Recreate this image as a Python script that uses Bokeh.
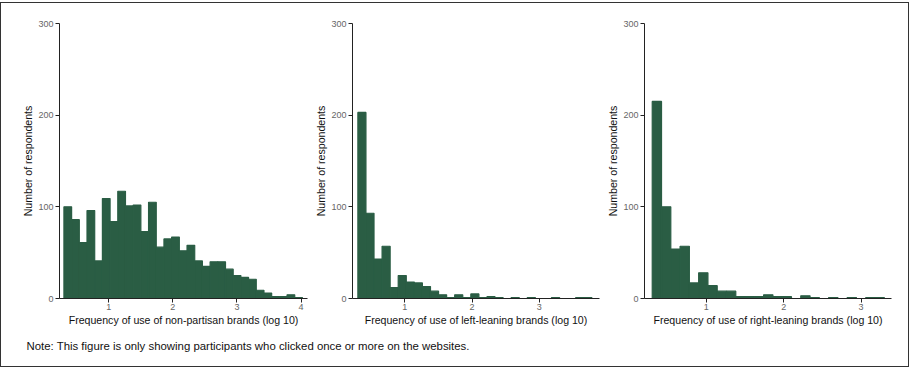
from bokeh.plotting import figure
from bokeh.models import Range1d, Label, FixedTicker
from bokeh.layouts import row, column
from bokeh.embed import file_html
from bokeh.resources import INLINE

# ---- data ----
bin_start = 0.301      # log10(2)
bin_width = 0.12
nonpartisan_counts = [100, 86, 61, 96, 41, 109, 84, 117, 101, 102, 73, 105, 56, 65, 67, 52,
                      58, 41, 35, 40, 40, 32, 25, 23, 21, 9, 6, 2, 2, 4, 1]
left_counts = [203, 93, 43, 57, 12, 25, 18, 17, 13, 8, 4, 1, 4, 1, 5, 1, 2, 1, 0, 1,
               0, 1, 0, 0, 1, 0, 0, 1, 1]
right_counts = [215, 100, 54, 57, 17, 28, 14, 8, 8, 2, 2, 2, 4, 2, 2, 0, 3, 1, 0, 1,
                0, 1, 0, 1, 1]
x_titles = ["Frequency of use of non-partisan brands (log 10)",
            "Frequency of use of left-leaning brands (log 10)",
            "Frequency of use of right-leaning brands (log 10)"]
y_title = "Number of respondents"
y_ticks = [0, 100, 200, 300]
x_ticks_1 = [1, 2, 3, 4]
x_ticks_23 = [1, 2, 3]
note_text = "Note: This figure is only showing participants who clicked once or more on the websites."

GREEN = "#2a5d44"
FONT = "Liberation Sans"


def panel(counts, xtitle, xr, xticks, width, bl, br):
    p = figure(width=width, height=328, x_range=Range1d(*xr), y_range=Range1d(0, 300),
               output_backend="svg", toolbar_location=None,
               min_border_left=bl, min_border_right=br, min_border_top=20, min_border_bottom=33)
    lefts = [bin_start + i * bin_width for i in range(len(counts))]
    rights = [l + bin_width for l in lefts]
    p.quad(left=lefts, right=rights, bottom=0, top=counts,
           fill_color=GREEN, line_color=GREEN, line_width=1.2)
    p.xgrid.visible = False
    p.ygrid.visible = False
    p.outline_line_color = None
    p.background_fill_color = "white"
    p.border_fill_color = "white"
    for ax in (p.xaxis[0], p.yaxis[0]):
        ax.axis_line_color = "#222222"
        ax.axis_line_width = 1
        ax.major_tick_line_color = "#222222"
        ax.major_tick_out = 4
        ax.major_tick_in = 0
        ax.minor_tick_line_color = None
        ax.major_label_text_font = FONT
        ax.major_label_text_font_size = "9px"
        ax.major_label_text_color = "#666666"
        ax.axis_label_text_font = FONT
        ax.axis_label_text_font_size = "10.6px"
        ax.axis_label_text_font_style = "normal"
        ax.axis_label_text_color = "#111111"
    p.xaxis[0].major_label_standoff = 1
    p.xaxis[0].axis_label_standoff = 1
    p.yaxis[0].major_label_standoff = 2
    p.yaxis[0].axis_label_standoff = 1
    p.xaxis[0].ticker = FixedTicker(ticks=xticks)
    p.yaxis[0].ticker = FixedTicker(ticks=y_ticks)
    p.xaxis[0].axis_label = xtitle
    p.yaxis[0].axis_label = y_title
    return p


# row content starts inside the frame border
p1 = panel(nonpartisan_counts, x_titles[0], (0.232, 4.10), x_ticks_1, 311, 58, 5)
p2 = panel(left_counts, x_titles[1], (0.221, 3.895), x_ticks_23, 292, 39, 5)
p3 = panel(right_counts, x_titles[2], (0.201, 3.394), x_ticks_23, 304, 38, 17)

note = figure(width=907, height=35, x_range=Range1d(0, 907), y_range=Range1d(0, 35),
              output_backend="svg", toolbar_location=None,
              min_border_left=0, min_border_right=0, min_border_top=0, min_border_bottom=0)
note.xaxis.visible = False
note.yaxis.visible = False
note.xgrid.visible = False
note.ygrid.visible = False
note.outline_line_color = None
note.add_layout(Label(x=25, y=21, text=note_text, text_font=FONT, text_font_size="11.4px",
                      text_color="#111111", text_baseline="middle"))

layout = column(row(p1, p2, p3), note,
                styles={"border": "1px solid #333333", "margin-top": "2px", "margin-left": "0px"})

open("out.html", "w").write(file_html(layout, INLINE))
